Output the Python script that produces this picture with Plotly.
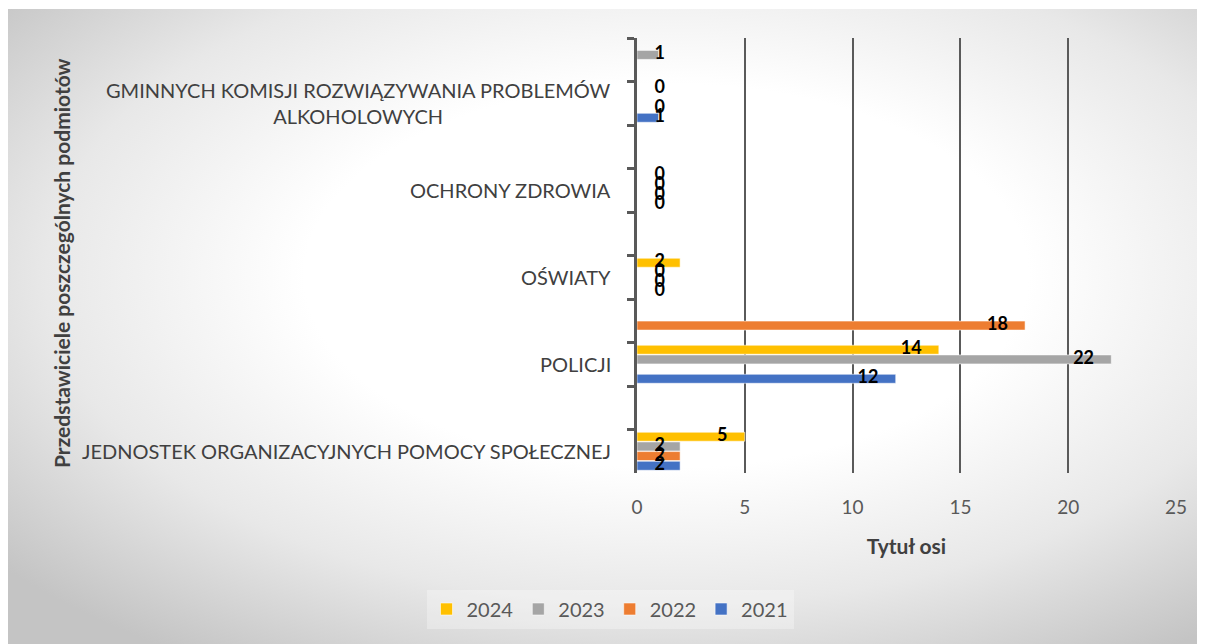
import base64
import plotly.graph_objects as go

# ---- data (top-to-bottom order of rows as in the chart) ----
categories = [
    " ",
    "GMINNYCH KOMISJI ROZWIĄZYWANIA PROBLEMÓW<br>ALKOHOLOWYCH",
    "  ",
    "OCHRONY ZDROWIA",
    "   ",
    "OŚWIATY",
    "    ",
    "POLICJI",
    "     ",
    "JEDNOSTEK ORGANIZACYJNYCH POMOCY SPOŁECZNEJ",
]
series_names = ["2024", "2023", "2022", "2021"]
v2024 = [None, 0, None, 0, None, 2, None, 14, None, 5]
v2023 = [1, None, None, 0, None, 0, None, 22, None, 2]
v2022 = [None, 0, None, 0, None, 0, 18, None, None, 2]
v2021 = [None, 1, None, 0, None, 0, None, 12, None, 2]
x_ticks = [0, 5, 10, 15, 20, 25]

series_values = [v2024, v2023, v2022, v2021]
colors = ["#FFC000", "#A5A5A5", "#ED7D31", "#4472C4"]

FONT = "Lato"
BARGAP = 0.11

fig = go.Figure()
for name, vals, col in zip(series_names, series_values, colors):
    fig.add_trace(go.Bar(
        y=categories, x=vals, name=name, orientation="h",
        marker=dict(color=col, line=dict(color="rgba(255,255,255,0.55)", width=1)),
        offsetgroup=name, hoverinfo="skip",
    ))

# data labels (inside end, clamped near the axis start for short bars)
for name, vals in zip(series_names, series_values):
    lx = [None if v is None else max(v - 0.8, 1.3) for v in vals]
    txt = ["" if v is None else str(v) for v in vals]
    fig.add_trace(go.Scatter(
        y=categories, x=lx, text=txt, mode="text", orientation="h",
        textposition="middle left", offsetgroup=name, showlegend=False,
        textfont=dict(family=FONT, size=18, color="black", weight="bold"),
        hoverinfo="skip", cliponaxis=False,
    ))

# figure is drawn at page offset (8, 8)
W, H = 1197, 636
OFF = 8
PL, PR, PT, PB = 637 - OFF, 1176 - OFF, 38 - OFF, 473 - OFF
PW, PH = PR - PL, PB - PT

def px(x):
    return (x - OFF - PL) / PW

def py(y):
    return (PB - (y - OFF)) / PH

# background radial gradient
svg = """<svg xmlns='http://www.w3.org/2000/svg' width='1197' height='635' viewBox='0 0 1197 635' preserveAspectRatio='none'>
<defs><radialGradient id='g' cx='0.55' cy='0.42' r='0.72'>
<stop offset='0' stop-color='#ffffff'/>
<stop offset='0.42' stop-color='#ffffff'/>
<stop offset='0.72' stop-color='#e8e8e8'/>
<stop offset='1' stop-color='#c4c4c4'/>
</radialGradient></defs>
<rect width='1197' height='635' fill='url(#g)'/></svg>"""
uri = "data:image/svg+xml;base64," + base64.b64encode(svg.encode()).decode()

annotations = []
for c in categories:
    if c.strip():
        annotations.append(dict(
            x=0, xref="paper", y=c, yref="y", xanchor="right", xshift=-24,
            text=c, showarrow=False, align="center",
            font=dict(family=FONT, size=20, color="#404040"),
        ))
annotations.append(dict(
    x=px(62), xref="paper", y=py(263), yref="paper", textangle=-90,
    xanchor="center", yanchor="middle",
    text="Przedstawiciele poszczególnych podmiotów", showarrow=False,
    font=dict(family=FONT, size=21, color="#404040", weight="bold"),
))

fig.update_layout(
    width=W, height=H,
    margin=dict(l=PL, r=W - PR, t=PT, b=H - PB),
    paper_bgcolor="white", plot_bgcolor="rgba(0,0,0,0)",
    barmode="group", bargap=BARGAP, bargroupgap=0.07,
    scattermode="group", scattergap=BARGAP,
    font=dict(family=FONT, color="#595959"),
    images=[dict(source=uri, xref="paper", yref="paper",
                 x=px(8), y=py(9), sizex=1197 / PW, sizey=635 / PH,
                 sizing="stretch", layer="below", xanchor="left", yanchor="top")],
    xaxis=dict(
        range=[0, 25], tickvals=x_ticks, showgrid=True, gridcolor="#5a5a5a",
        gridwidth=1.5, zeroline=False, showline=False, ticks="",
        ticklabelstandoff=21, tickfont=dict(family=FONT, size=19, color="#595959"),
        title=dict(text="Tytuł osi", standoff=22,
                   font=dict(family=FONT, size=21, color="#404040", weight="bold")),
        fixedrange=True,
    ),
    yaxis=dict(
        type="category", categoryorder="array", categoryarray=categories,
        autorange="reversed", showticklabels=False, showgrid=False,
        showline=True, linecolor="#595959", linewidth=3,
        ticks="outside", tickson="boundaries", ticklen=7, tickwidth=3,
        tickcolor="#595959", zeroline=False,
    ),
    legend=dict(
        orientation="h", x=px(610), xanchor="center", y=py(609), yanchor="middle",
        font=dict(family=FONT, size=20, color="#595959"),
        bgcolor="rgba(255,255,255,0.3)", itemwidth=30, traceorder="normal",
    ),
    annotations=annotations,
    showlegend=True,
)

fig.write_html("out.html")
